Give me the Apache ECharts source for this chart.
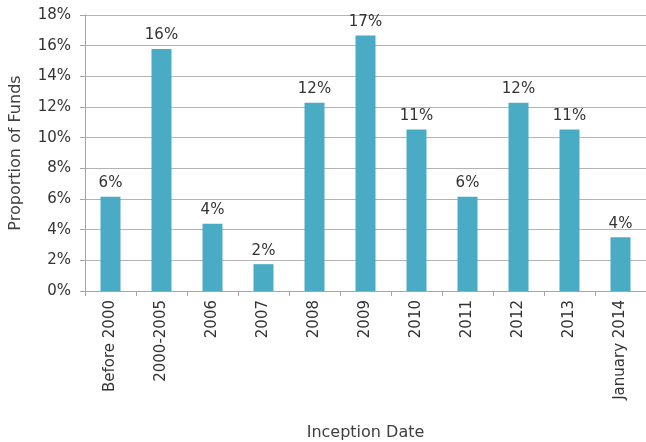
<!DOCTYPE html>
<html>
<head>
<meta charset="utf-8">
<script src="https://cdn.jsdelivr.net/npm/echarts@6/dist/echarts.min.js"></script>
<style>
  html, body { margin: 0; padding: 0; background: #fff; }
  #c1 { width: 646px; height: 442px; }
</style>
</head>
<body>
<div id="c1"></div>
<script>
// inception date categories
var categories = ['Before 2000', '2000-2005', '2006', '2007', '2008', '2009', '2010', '2011', '2012', '2013', 'January 2014'];
// proportion of funds, in %
var proportions = [6.14, 15.79, 4.39, 1.75, 12.28, 16.67, 10.53, 6.14, 12.28, 10.53, 3.51];
var yTicks = [0, 2, 4, 6, 8, 10, 12, 14, 16, 18];

var font = 'Century Gothic, "DejaVu Sans", sans-serif';
var dom = document.getElementById('c1');
var myChart = echarts.init(dom);
var option = {
    textStyle: { fontFamily: font },
    grid: {
        left: 85,
        right: 0,
        top: 15,
        bottom: 151,
        containLabel: false,
        outerBoundsMode: 'none'
    },
    xAxis: {
        type: 'category',
        data: categories,
        name: 'Inception Date',
        nameLocation: 'middle',
        nameGap: 134,
        nameTextStyle: { fontSize: 16, color: '#404040', fontFamily: font },
        axisLine: { lineStyle: { color: '#a6a6a6' } },
        axisTick: { show: true, length: 5, lineStyle: { color: '#a6a6a6' } },
        axisLabel: { rotate: 90, fontSize: 15, color: '#333', margin: 9, fontFamily: font }
    },
    yAxis: {
        type: 'value',
        min: yTicks[0],
        max: yTicks[yTicks.length - 1],
        interval: 2,
        name: 'Proportion of Funds',
        nameLocation: 'middle',
        nameGap: 61,
        nameTextStyle: { fontSize: 16, color: '#404040', fontFamily: font },
        axisLine: { show: true, lineStyle: { color: '#a6a6a6' } },
        axisTick: { show: true, length: 5, lineStyle: { color: '#a6a6a6' } },
        axisLabel: {
            fontSize: 15, color: '#333', margin: 14, fontFamily: font,
            formatter: function (v) { return v + '%'; }
        },
        splitLine: { lineStyle: { color: '#b3b3b3' } }
    },
    series: [
        {
            type: 'bar',
            data: proportions,
            barWidth: 20,
            itemStyle: { color: '#4aabc5' },
            label: {
                show: true,
                position: 'top',
                distance: 6,
                fontSize: 15,
                color: '#333',
                fontFamily: font,
                formatter: function (p) { return Math.round(p.value) + '%'; }
            }
        }
    ]
};
myChart.setOption(option, true);
</script>
</body>
</html>
